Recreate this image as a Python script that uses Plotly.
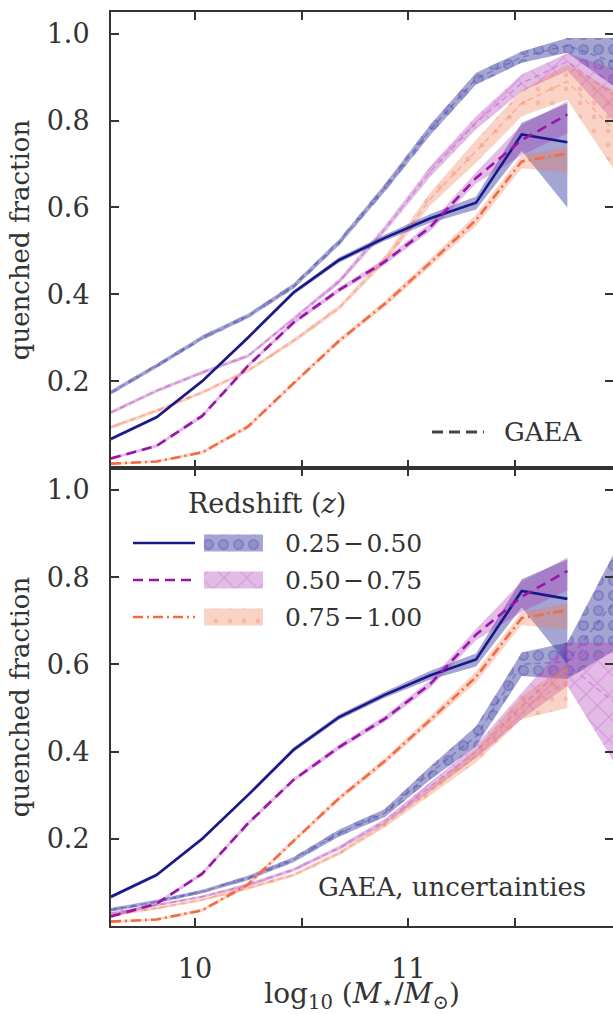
import plotly.graph_objects as go
from plotly.subplots import make_subplots

# stellar mass bin centres, log10(M*/Msun)
MASS = [9.606, 9.820, 10.034, 10.248, 10.462, 10.676, 10.890, 11.104, 11.318, 11.532, 11.746, 11.960]
Z_LABELS = ["0.25\u200a\u2212\u200a0.50", "0.50\u200a\u2212\u200a0.75", "0.75\u200a\u2212\u200a1.00"]

# observed quenched fraction (bold lines, both panels)
OBS_Z1 = [0.067, 0.117, 0.200, 0.300, 0.404, 0.479, 0.530, 0.575, 0.611, 0.768, 0.750]
OBS_Z1_LO = [0.063, 0.113, 0.196, 0.296, 0.399, 0.473, 0.523, 0.565, 0.595, 0.730, 0.600]
OBS_Z1_HI = [0.071, 0.121, 0.204, 0.304, 0.409, 0.485, 0.537, 0.585, 0.625, 0.795, 0.840]
OBS_Z2 = [0.022, 0.051, 0.120, 0.235, 0.335, 0.410, 0.475, 0.555, 0.668, 0.755, 0.814]
OBS_Z2_LO = [0.019, 0.047, 0.115, 0.230, 0.330, 0.404, 0.468, 0.546, 0.655, 0.720, 0.770]
OBS_Z2_HI = [0.025, 0.055, 0.125, 0.240, 0.340, 0.416, 0.482, 0.564, 0.681, 0.790, 0.845]
OBS_Z3 = [0.010, 0.015, 0.036, 0.095, 0.195, 0.293, 0.378, 0.473, 0.571, 0.706, 0.724]
OBS_Z3_LO = [0.007, 0.012, 0.032, 0.090, 0.190, 0.287, 0.371, 0.464, 0.558, 0.690, 0.680]
OBS_Z3_HI = [0.013, 0.018, 0.040, 0.100, 0.200, 0.299, 0.385, 0.482, 0.584, 0.720, 0.740]

# GAEA, top panel
GAEA_Z1 = [0.174, 0.235, 0.300, 0.350, 0.419, 0.520, 0.645, 0.779, 0.896, 0.946, 0.973, 0.935]
GAEA_Z1_LO = [0.169, 0.230, 0.295, 0.345, 0.413, 0.513, 0.636, 0.767, 0.883, 0.933, 0.956, 0.880]
GAEA_Z1_HI = [0.179, 0.240, 0.305, 0.355, 0.425, 0.527, 0.654, 0.791, 0.910, 0.959, 0.990, 0.990]
GAEA_Z2 = [0.128, 0.178, 0.220, 0.258, 0.343, 0.430, 0.550, 0.683, 0.795, 0.886, 0.936, 0.860]
GAEA_Z2_LO = [0.124, 0.174, 0.216, 0.254, 0.338, 0.424, 0.542, 0.671, 0.780, 0.867, 0.915, 0.800]
GAEA_Z2_HI = [0.132, 0.182, 0.224, 0.262, 0.348, 0.436, 0.558, 0.695, 0.810, 0.906, 0.955, 0.920]
GAEA_Z3 = [0.094, 0.132, 0.174, 0.224, 0.293, 0.369, 0.480, 0.620, 0.730, 0.840, 0.890, 0.780]
GAEA_Z3_LO = [0.090, 0.128, 0.170, 0.220, 0.288, 0.363, 0.472, 0.605, 0.703, 0.810, 0.848, 0.690]
GAEA_Z3_HI = [0.098, 0.136, 0.178, 0.228, 0.298, 0.375, 0.488, 0.635, 0.756, 0.870, 0.929, 0.870]

# GAEA with uncertainties, bottom panel
GAEAU_Z1 = [0.037, 0.056, 0.079, 0.110, 0.152, 0.213, 0.259, 0.351, 0.435, 0.600, 0.606, 0.740]
GAEAU_Z1_LO = [0.033, 0.052, 0.075, 0.105, 0.146, 0.205, 0.250, 0.336, 0.412, 0.573, 0.566, 0.630]
GAEAU_Z1_HI = [0.041, 0.060, 0.083, 0.115, 0.158, 0.221, 0.268, 0.366, 0.458, 0.627, 0.650, 0.850]
GAEAU_Z2 = [0.029, 0.048, 0.067, 0.094, 0.129, 0.179, 0.240, 0.320, 0.400, 0.505, 0.600, 0.515]
GAEAU_Z2_LO = [0.026, 0.045, 0.064, 0.090, 0.125, 0.174, 0.234, 0.310, 0.385, 0.474, 0.550, 0.380]
GAEAU_Z2_HI = [0.032, 0.051, 0.070, 0.098, 0.133, 0.184, 0.246, 0.330, 0.415, 0.535, 0.650, 0.650]
GAEAU_Z3 = [0.025, 0.041, 0.060, 0.087, 0.117, 0.167, 0.232, 0.309, 0.390, 0.500, 0.560]
GAEAU_Z3_LO = [0.022, 0.038, 0.057, 0.083, 0.113, 0.162, 0.226, 0.300, 0.375, 0.474, 0.500]
GAEAU_Z3_HI = [0.028, 0.044, 0.063, 0.091, 0.121, 0.172, 0.238, 0.318, 0.405, 0.527, 0.600]

FONT = "DejaVu Serif"
AX_COLOR = "#333333"
TXT_COLOR = "#333333"

LINE_COLORS = ["rgb(24,24,135)", "rgb(155,20,170)", "rgb(242,108,66)"]
BAND_COLORS = ["rgba(40,40,150,0.42)", "rgba(170,50,180,0.33)", "rgba(240,120,80,0.32)"]
GAEA_LINE = ["rgba(60,60,160,0.38)", "rgba(175,70,190,0.38)", "rgba(240,120,80,0.38)"]
DASHES = ["solid", "10px,6px", "10px,4px,2px,4px"]
PATTERNS = [
    dict(shape=".", size=15, solidity=0.42, fgcolor="rgba(75,75,170,0.85)", fillmode="overlay"),
    dict(shape="x", size=16, solidity=0.16, fgcolor="rgba(205,110,210,0.9)", fillmode="overlay"),
    dict(shape=".", size=14, solidity=0.1, fgcolor="rgba(240,135,105,0.75)", fillmode="overlay"),
]
# inner dot that turns the blue dots into rings
RING_HOLE = dict(shape=".", size=15, solidity=0.17, fgcolor="rgb(165,165,212)", fillmode="overlay")


def band(fig, x, lo, hi, fillcolor, pattern, xa, ya):
    n = len(lo)
    xs = list(x[:n])
    fig.add_trace(go.Scatter(
        x=xs + xs[::-1], y=list(hi) + list(lo)[::-1], xaxis=xa, yaxis=ya,
        mode="lines", line=dict(width=0), fill="toself", fillcolor=fillcolor,
        fillpattern=pattern, hoverinfo="skip", showlegend=False))


def line(fig, x, y, color, width, dash, xa, ya):
    fig.add_trace(go.Scatter(
        x=list(x[:len(y)]), y=y, xaxis=xa, yaxis=ya, mode="lines",
        line=dict(color=color, width=width, dash=dash),
        hoverinfo="skip", showlegend=False))


fig = make_subplots(rows=2, cols=1, shared_xaxes=True, vertical_spacing=0)

obs = [(OBS_Z1, OBS_Z1_LO, OBS_Z1_HI), (OBS_Z2, OBS_Z2_LO, OBS_Z2_HI), (OBS_Z3, OBS_Z3_LO, OBS_Z3_HI)]
gaea = {
    "y": [(GAEA_Z1, GAEA_Z1_LO, GAEA_Z1_HI), (GAEA_Z2, GAEA_Z2_LO, GAEA_Z2_HI), (GAEA_Z3, GAEA_Z3_LO, GAEA_Z3_HI)],
    "y2": [(GAEAU_Z1, GAEAU_Z1_LO, GAEAU_Z1_HI), (GAEAU_Z2, GAEAU_Z2_LO, GAEAU_Z2_HI), (GAEAU_Z3, GAEAU_Z3_LO, GAEAU_Z3_HI)],
}

for xa, ya in [("x", "y"), ("x2", "y2")]:
    for i, (val, lo, hi) in enumerate(gaea[ya]):
        band(fig, MASS, lo, hi, BAND_COLORS[i], PATTERNS[i], xa, ya)
        if i == 0:
            band(fig, MASS, lo, hi, "rgba(0,0,0,0)", RING_HOLE, xa, ya)
        line(fig, MASS, val, GAEA_LINE[i], 1.6, "6px,4px", xa, ya)
    for i, (val, lo, hi) in enumerate(obs):
        band(fig, MASS, lo, hi, BAND_COLORS[i], None, xa, ya)
    for i, (val, lo, hi) in enumerate(obs):
        line(fig, MASS, val, LINE_COLORS[i], 2.6, DASHES[i], xa, ya)

# overlay axes in page pixel units, used for the hand made legends
PX_L, PX_R, PX_T, PX_B = 111, 613, 12, 926

for i, lab in enumerate(Z_LABELS):
    yrow = 543 + 37 * i
    fig.add_trace(go.Scatter(x=[133, 195], y=[yrow, yrow], xaxis="x3", yaxis="y3", mode="lines",
                             line=dict(color=LINE_COLORS[i], width=2.6, dash=DASHES[i]),
                             hoverinfo="skip", showlegend=False))
    px = [204, 263, 263, 204, 204]
    py = [yrow - 8.5, yrow - 8.5, yrow + 8.5, yrow + 8.5, yrow - 8.5]
    fig.add_trace(go.Scatter(x=px, y=py, xaxis="x3", yaxis="y3", mode="lines", line=dict(width=0),
                             fill="toself", fillcolor=BAND_COLORS[i], fillpattern=PATTERNS[i],
                             hoverinfo="skip", showlegend=False))
    if i == 0:
        fig.add_trace(go.Scatter(x=px, y=py, xaxis="x3", yaxis="y3", mode="lines", line=dict(width=0),
                                 fill="toself", fillcolor="rgba(0,0,0,0)", fillpattern=RING_HOLE,
                                 hoverinfo="skip", showlegend=False))
    fig.add_annotation(x=283, y=yrow, xref="x3", yref="y3", text=lab, showarrow=False,
                       xanchor="left", yanchor="middle", font=dict(size=25))

fig.add_annotation(x=267, y=503, xref="x3", yref="y3", text="Redshift (<i>z</i>)", showarrow=False,
                   xanchor="center", yanchor="middle", font=dict(size=27))

fig.add_trace(go.Scatter(x=[432, 484], y=[432, 432], xaxis="x3", yaxis="y3", mode="lines",
                         line=dict(color="#444444", width=3, dash="11px,6px"),
                         hoverinfo="skip", showlegend=False))
fig.add_annotation(x=502, y=432, xref="x3", yref="y3", text="GAEA", showarrow=False,
                   xanchor="left", yanchor="middle", font=dict(size=26))
fig.add_annotation(x=588, y=887, xref="x3", yref="y3", text="GAEA, uncertainties", showarrow=False,
                   xanchor="right", yanchor="middle", font=dict(size=26))

split = (PX_B - 468) / (PX_B - PX_T)
axis_style = dict(showline=True, linecolor=AX_COLOR, linewidth=2, mirror="ticks",
                  ticks="inside", ticklen=8, tickwidth=1.6, tickcolor=AX_COLOR,
                  showgrid=False, zeroline=False, automargin=False)

fig.update_xaxes(axis_style)
fig.update_yaxes(axis_style)
fig.update_xaxes(dtick=1, tick0=10, range=[MASS[0], MASS[-1]],
                 minor=dict(dtick=0.5, tick0=10, ticks="inside", ticklen=8, tickwidth=1.6,
                            tickcolor=AX_COLOR, showgrid=False))
fig.update_layout(
    width=613, height=1014,
    margin=dict(l=PX_L, r=0, t=PX_T, b=1014 - PX_B),
    plot_bgcolor="rgba(0,0,0,0)", paper_bgcolor="white",
    font=dict(family=FONT, size=27, color=TXT_COLOR),
    xaxis=dict(showticklabels=False),
    xaxis2=dict(ticklabelstandoff=18,
                title=dict(text="log<sub>10</sub> (<i>M</i><sub>\u22c6</sub>/<i>M</i><sub>\u2299</sub>)",
                           standoff=14, font=dict(size=28))),
    yaxis=dict(domain=[split, 1], range=[0, 1.05], tickvals=[0.2, 0.4, 0.6, 0.8, 1.0],
               tickformat=".1f", ticklabelstandoff=14,
               title=dict(text="quenched fraction", standoff=10, font=dict(size=26))),
    yaxis2=dict(domain=[0, split], range=[0, 1.05], tickvals=[0.2, 0.4, 0.6, 0.8, 1.0],
                tickformat=".1f", ticklabelstandoff=14,
                title=dict(text="quenched fraction", standoff=10, font=dict(size=26))),
    xaxis3=dict(domain=[0, 1], range=[PX_L, PX_R], visible=False, anchor="y3", fixedrange=True),
    yaxis3=dict(domain=[0, 1], range=[PX_B, PX_T], visible=False, anchor="x3", fixedrange=True),
)

fig.write_html("out.html", config={"displayModeBar": False},
               post_script="document.body.style.margin='0px';document.body.style.overflow='hidden';")
